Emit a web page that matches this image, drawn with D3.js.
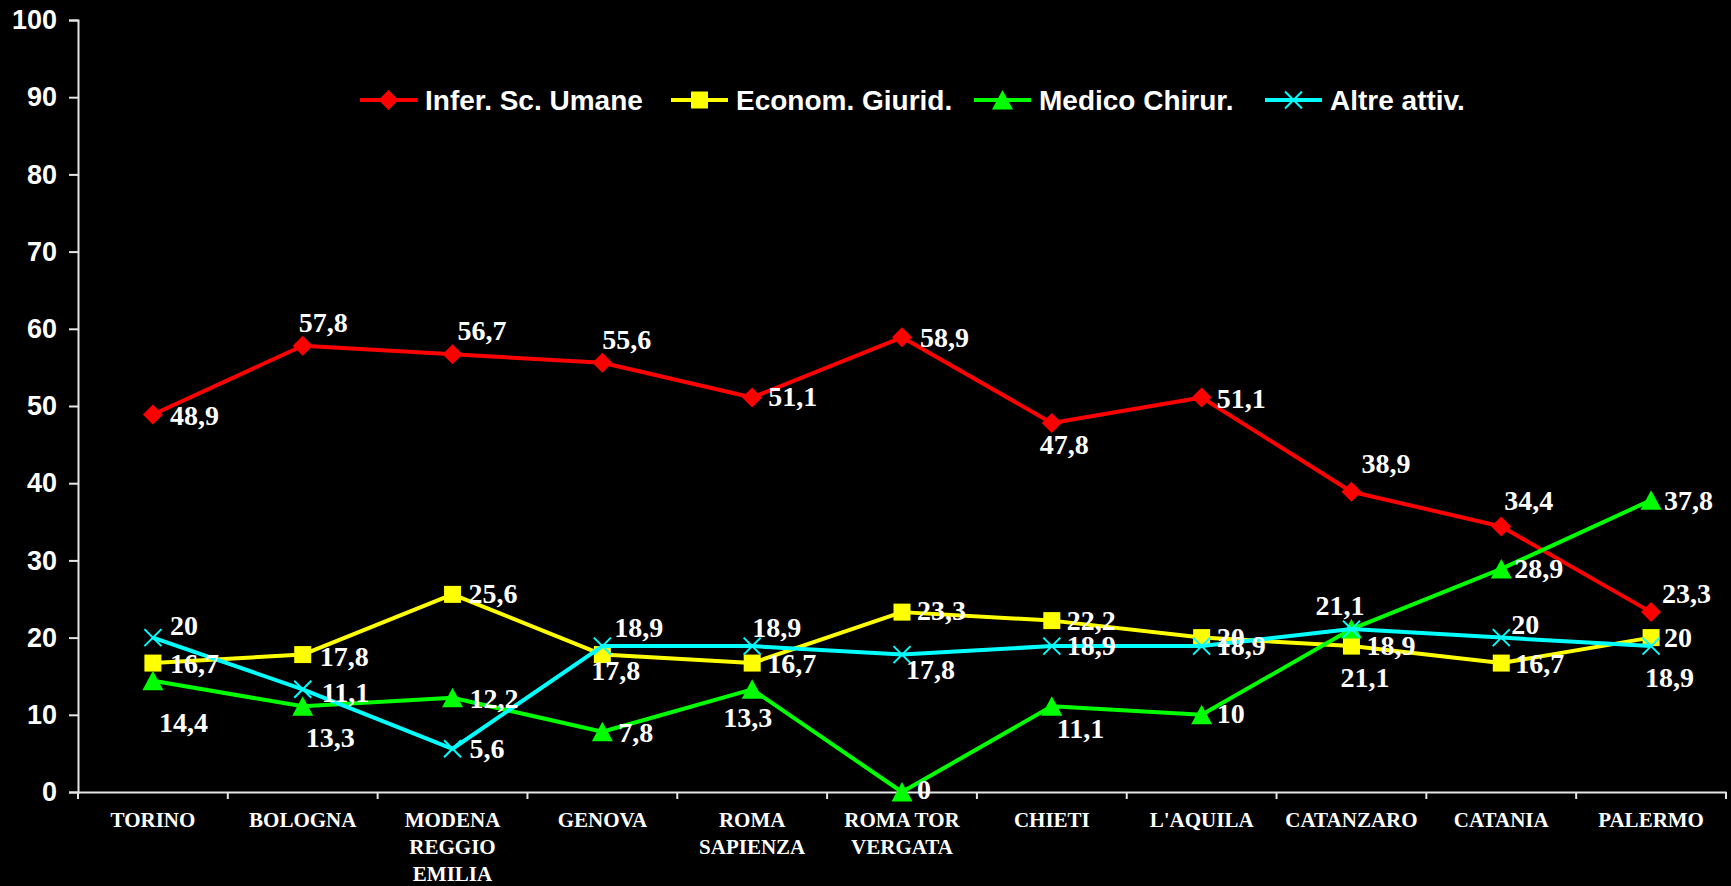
<!DOCTYPE html>
<html>
<head>
<meta charset="utf-8">
<script src="https://cdn.jsdelivr.net/npm/d3@7"></script>
<style>
  html, body { margin: 0; padding: 0; background: #000; }
  svg { display: block; }
</style>
</head>
<body>
<script>
// data
const categories = ["TORINO", "BOLOGNA", "MODENA\nREGGIO\nEMILIA", "GENOVA", "ROMA\nSAPIENZA",
                    "ROMA TOR\nVERGATA", "CHIETI", "L'AQUILA", "CATANZARO", "CATANIA", "PALERMO"];
const seriesNames = ["Infer. Sc. Umane", "Econom. Giurid.", "Medico Chirur.", "Altre attiv."];
const inferValues  = [48.9, 57.8, 56.7, 55.6, 51.1, 58.9, 47.8, 51.1, 38.9, 34.4, 23.3];
const economValues = [16.7, 17.8, 25.6, 17.8, 16.7, 23.3, 22.2, 20, 18.9, 16.7, 20];
const medicoValues = [14.4, 11.1, 12.2, 7.8, 13.3, 0, 11.1, 10, 21.1, 28.9, 37.8];
const altreValues  = [20, 13.3, 5.6, 18.9, 18.9, 17.8, 18.9, 18.9, 21.1, 20, 18.9];
const yTicks = [0, 10, 20, 30, 40, 50, 60, 70, 80, 90, 100];

// where each value label sits relative to its marker [dx, dy]
const inferLabelPos  = [[17,11],[-4,-14],[5,-14],[0,-14],[16,8],[18,10],[-12,31],[15,10],[10,-19],[3,-16],[11,-9]];
const economLabelPos = [[17,10],[17,11],[16,9],[-11,25],[15,10],[15,8],[15,9],[15,9],[15,9],[14,10],[13,9]];
const medicoLabelPos = [[6,51],[19,-4],[17,10],[16,10],[-29,38],[15,7],[5,32],[15,8],[-11,58],[13,9],[13,10]];
const altreLabelPos  = [[17,-3],[3,58],[17,9],[12,-9],[0,-9],[4,24],[15,9],[15,9],[-36,-14],[10,-4],[-6,41]];

const W = 1731, H = 886;
const colors = ["#ff0000", "#ffff00", "#00ff00", "#00ffff"];
const legendTextX = [425, 736, 1039, 1330];

const svg = d3.select("body").append("svg")
  .attr("width", W).attr("height", H)
  .style("background", "#000");

const x = d3.scaleBand().domain(categories).range([78, 1726]);
const y = d3.scaleLinear().domain([0, 100]).range([792, 20]);

// y axis
const yAxis = svg.append("g")
  .attr("transform", "translate(78,0)")
  .call(d3.axisLeft(y).tickValues(yTicks).tickSize(9).tickPadding(12));
yAxis.select(".domain").attr("stroke", "#e6e6e6").attr("stroke-width", 2);
yAxis.selectAll(".tick line").attr("stroke", "#e6e6e6").attr("stroke-width", 2);
yAxis.selectAll(".tick text")
  .attr("fill", "#fff")
  .style("font-family", "'Liberation Sans', Arial, sans-serif")
  .style("font-weight", "bold")
  .style("font-size", "27px");

// x axis
const xAxis = svg.append("g")
  .attr("transform", "translate(0,792)")
  .call(d3.axisBottom(x).tickSize(0).tickFormat(""));
xAxis.select(".domain").attr("stroke", "#e6e6e6").attr("stroke-width", 2);

const bounds = categories.map(c => x(c)).concat([x.range()[1]]);
svg.append("g").selectAll("line")
  .data(bounds)
  .enter().append("line")
  .attr("x1", d => d).attr("x2", d => d)
  .attr("y1", 792).attr("y2", 799)
  .attr("stroke", "#e6e6e6").attr("stroke-width", 2);

svg.append("g").selectAll("text")
  .data(categories)
  .enter().append("text")
  .attr("x", d => x(d) + x.bandwidth() / 2)
  .attr("y", 827)
  .attr("text-anchor", "middle")
  .attr("fill", "#fff")
  .style("font-family", "'Liberation Serif', 'Times New Roman', serif")
  .style("font-weight", "bold")
  .style("font-size", "21px")
  .each(function(d) {
    let t = d3.select(this);
    d.split("\n").forEach((line, i) => {
      t.append("tspan")
        .attr("x", x(d) + x.bandwidth() / 2)
        .attr("dy", i == 0 ? 0 : 27)
        .text(line);
    });
  });

// markers
function drawMarker(g, k, color) {
  if (k == 0) {
    g.append("path").attr("d", "M0,-10L10,0L0,10L-10,0Z").attr("fill", color);
  } else if (k == 1) {
    g.append("rect").attr("x", -8.5).attr("y", -8.5).attr("width", 17).attr("height", 17).attr("fill", color);
  } else if (k == 2) {
    g.append("path").attr("d", "M0,-10L10.5,9.5L-10.5,9.5Z").attr("fill", color);
  } else {
    g.append("path").attr("d", "M-8.5,-8.5L8.5,8.5M-8.5,8.5L8.5,-8.5")
      .attr("stroke", color).attr("stroke-width", 2).attr("fill", "none");
  }
}

const allSeries = [inferValues, economValues, medicoValues, altreValues];
const allLabelPos = [inferLabelPos, economLabelPos, medicoLabelPos, altreLabelPos];

const line = d3.line()
  .x((d, i) => x(categories[i]) + x.bandwidth() / 2)
  .y(d => y(d));

allSeries.forEach((vals, k) => {
  let g = svg.append("g");
  g.append("path")
    .datum(vals)
    .attr("d", line)
    .attr("fill", "none")
    .attr("stroke", colors[k])
    .attr("stroke-width", 4)
    .attr("stroke-linejoin", "round");

  g.selectAll(".mk")
    .data(vals)
    .enter().append("g")
    .attr("transform", (d, i) => "translate(" + (x(categories[i]) + x.bandwidth() / 2) + "," + y(d) + ")")
    .each(function() { drawMarker(d3.select(this), k, colors[k]); });
});

// value labels on top
allSeries.forEach((vals, k) => {
  svg.append("g").selectAll("text")
    .data(vals)
    .enter().append("text")
    .attr("x", (d, i) => x(categories[i]) + x.bandwidth() / 2 + allLabelPos[k][i][0])
    .attr("y", (d, i) => y(d) + allLabelPos[k][i][1])
    .attr("fill", "#fff")
    .style("font-family", "'Liberation Serif', 'Times New Roman', serif")
    .style("font-weight", "bold")
    .style("font-size", "28px")
    .text(d => String(d).replace(".", ","));
});

// legend
const legend = svg.append("g");
seriesNames.forEach((name, k) => {
  let tx = legendTextX[k];
  legend.append("line")
    .attr("x1", tx - 65).attr("x2", tx - 8)
    .attr("y1", 100).attr("y2", 100)
    .attr("stroke", colors[k]).attr("stroke-width", 4);
  let m = legend.append("g").attr("transform", "translate(" + (tx - 36.5) + ",100)");
  drawMarker(m, k, colors[k]);
  legend.append("text")
    .attr("x", tx).attr("y", 110)
    .attr("fill", "#fff")
    .style("font-family", "'Liberation Sans', Arial, sans-serif")
    .style("font-weight", "bold")
    .style("font-size", "28px")
    .text(name);
});
</script>
</body>
</html>
